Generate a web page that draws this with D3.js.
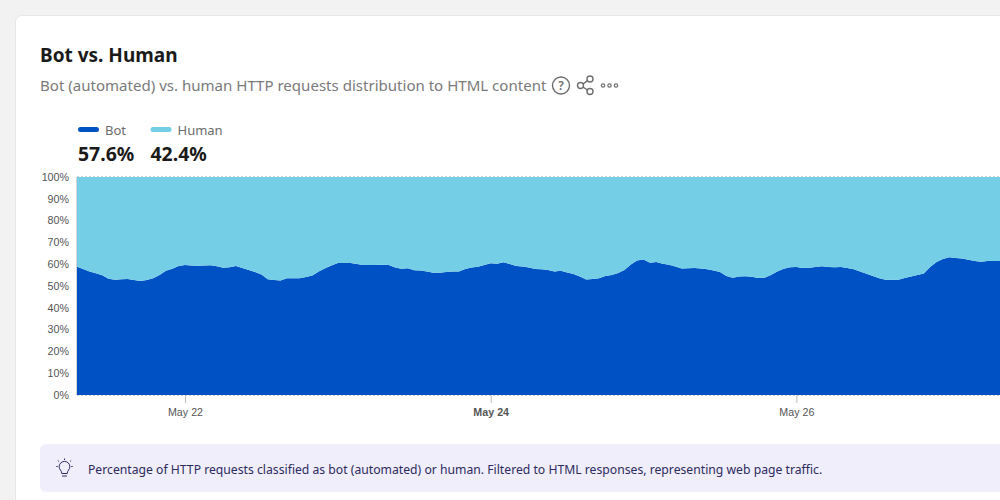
<!DOCTYPE html>
<html>
<head>
<meta charset="utf-8">
<script src="https://cdn.jsdelivr.net/npm/d3@7"></script>
<style>
  html, body { margin: 0; padding: 0; background: #f2f2f2; overflow: hidden; }
  svg { display: block; }
  text { font-family: "Noto Sans", sans-serif; }
  .tick text { font-family: "Liberation Sans", Arial, sans-serif; font-size: 10.7px; fill: #555; }
</style>
</head>
<body>
<svg id="chart" width="1000" height="500"></svg>
<script>
// hourly share of bot requests
var startTime = "2024-05-21T07:00:00Z"
var botValues = [
  58.9, 57.8, 56.6, 55.8, 54.9, 53.3, 52.9, 53.1, 53.2, 52.8, 52.3, 52.8, 53.5, 55.0, 57.0, 57.9,
  59.2, 59.6, 59.4, 59.3, 59.4, 59.5, 59.1, 58.4, 58.6, 59.2, 58.3, 57.3, 56.4, 55.3, 53.1, 52.8,
  52.5, 53.6, 53.5, 53.5, 54.1, 54.8, 56.6, 58.1, 59.4, 60.6, 60.5, 60.5, 60.1, 59.6, 59.6, 59.6,
  59.7, 59.6, 58.5, 57.9, 58.1, 57.2, 57.1, 56.6, 56.1, 56.1, 56.4, 56.7, 56.7, 57.8, 58.5, 58.8,
  59.6, 60.4, 60.2, 60.9, 60.1, 59.2, 59.0, 58.5, 57.8, 57.7, 57.3, 56.7, 57.0, 56.2, 55.5, 54.4,
  53.0, 53.2, 53.6, 54.6, 55.0, 56.0, 57.3, 59.9, 61.7, 62.2, 60.7, 61.0, 60.2, 59.7, 58.9, 58.0,
  58.1, 58.3, 58.0, 57.7, 57.1, 56.4, 54.6, 53.8, 54.4, 54.5, 54.3, 53.7, 53.8, 55.0, 56.7, 57.9,
  58.6, 58.7, 58.3, 58.4, 58.7, 59.1, 58.7, 58.6, 58.7, 58.3, 57.7, 56.7, 55.6, 54.6, 53.5, 52.9,
  52.9, 52.9, 53.7, 54.4, 55.0, 55.7, 58.7, 61.0, 62.4, 63.2, 62.9, 62.6, 62.0, 61.5, 61.1, 61.5,
  61.5, 61.5, 61.5
]
var yTicks = [0, 10, 20, 30, 40, 50, 60, 70, 80, 90, 100]
var xTicks = ["2024-05-22T00:00:00Z", "2024-05-24T00:00:00Z", "2024-05-26T00:00:00Z"]
var xTickLabels = ["May 22", "May 24", "May 26"]
var legendNames = ["Bot", "Human"]
var legendValues = ["57.6%", "42.4%"]
var colors = ["#0051c3", "#74cee6"]

var svg = d3.select("#chart")

// card
svg.append("rect").attr("x", 15.5).attr("y", 15.5).attr("width", 1100).attr("height", 600)
  .attr("rx", 6).attr("fill", "#fff").attr("stroke", "#e6e6e6")

svg.append("text").attr("x", 40).attr("y", 62).text("Bot vs. Human")
  .style("font-size", "19px").style("font-weight", 700).attr("fill", "#1a1a1a")

svg.append("text").attr("x", 40).attr("y", 91)
  .text("Bot (automated) vs. human HTTP requests distribution to HTML content")
  .style("font-size", "15.05px").attr("fill", "#7a7a7a")

// help, share and more icons
var icons = svg.append("g").attr("fill", "none").attr("stroke", "#6e6e6e").attr("stroke-width", 1.4)
icons.append("circle").attr("cx", 561).attr("cy", 85.5).attr("r", 8.5)
icons.append("text").attr("x", 561).attr("y", 90).attr("text-anchor", "middle").text("?")
  .attr("stroke", "none").attr("fill", "#6e6e6e").style("font-size", "12px").style("font-weight", 600)
icons.append("circle").attr("cx", 580.5).attr("cy", 85.5).attr("r", 3)
icons.append("circle").attr("cx", 590).attr("cy", 79).attr("r", 3)
icons.append("circle").attr("cx", 590).attr("cy", 91.5).attr("r", 3)
icons.append("path").attr("d", "M583 84 L587.4 80.6 M583 87 L587.4 90")
icons.selectAll(".dot").data([603, 609.5, 616]).enter().append("circle").attr("class", "dot")
  .attr("cx", function(d) { return d }).attr("cy", 85.5).attr("r", 1.7).attr("stroke-width", 1.2)

// legend
var legendX = [78, 150.5]
var legend = svg.selectAll(".legend").data(legendNames).enter().append("g").attr("class", "legend")
  .attr("transform", function(d, i) { return "translate(" + legendX[i] + ",0)" })
legend.append("rect").attr("x", 0).attr("y", 127).attr("width", 21).attr("height", 5).attr("rx", 2.5)
  .attr("fill", function(d, i) { return colors[i] })
legend.append("text").attr("x", 27).attr("y", 135).text(function(d) { return d })
  .style("font-size", "13px").attr("fill", "#6b6b6b")
legend.append("text").attr("x", 0).attr("y", 161).text(function(d, i) { return legendValues[i] })
  .style("font-size", "19.4px").style("font-weight", 700).attr("fill", "#1a1a1a")

// chart
var left = 77, right = 1000, top_ = 177, bottom = 395
var parse = d3.utcParse("%Y-%m-%dT%H:%M:%SZ")
var start = parse(startTime)
var rows = botValues.map(function(v, i) {
  return { time: d3.utcHour.offset(start, i), bot: v, human: 100 - v }
})

// May 22 sits at x=185, May 24 at x=490.7
var x = d3.scaleUtc()
  .domain([parse(xTicks[0]), parse(xTicks[1])])
  .range([185, 490.7])
var y = d3.scaleLinear().domain([0, 100]).range([bottom, top_])

var clip = svg.append("clipPath").attr("id", "plot")
clip.append("rect").attr("x", left).attr("y", top_).attr("width", right - left).attr("height", bottom - top_)

var stack = d3.stack().keys(["bot", "human"])
var area = d3.area()
  .x(function(d) { return x(d.data.time) })
  .y0(function(d) { return y(d[0]) })
  .y1(function(d) { return y(d[1]) })

svg.append("g").attr("clip-path", "url(#plot)")
  .selectAll("path").data(stack(rows)).enter().append("path")
  .attr("d", area)
  .attr("fill", function(d, i) { return colors[i] })

// frame of the plot
svg.append("line").attr("x1", left - 0.5).attr("x2", left - 0.5).attr("y1", top_).attr("y2", bottom)
  .attr("stroke", "#d4d4d4")
svg.selectAll(".edge").data([top_ - 0.5, bottom + 0.5]).enter().append("line").attr("class", "edge")
  .attr("x1", left).attr("x2", right)
  .attr("y1", function(d) { return d }).attr("y2", function(d) { return d })
  .attr("stroke", "#d0d0d0").attr("stroke-dasharray", "2,2")

var yAxis = d3.axisLeft(y).tickValues(yTicks).tickSize(0).tickPadding(8)
  .tickFormat(function(d) { return d + "%" })
svg.append("g").attr("transform", "translate(" + left + ",-0.2)").call(yAxis)
  .call(function(g) { g.select(".domain").remove() })

var xAxis = d3.axisBottom(x).tickValues(xTicks.map(parse)).tickSize(8).tickPadding(5)
  .tickFormat(function(d, i) { return xTickLabels[i] })
svg.append("g").attr("transform", "translate(0," + bottom + ")").call(xAxis)
  .call(function(g) {
    g.select(".domain").remove()
    g.selectAll(".tick line").attr("stroke", "#bdbdbd")
    g.selectAll(".tick text").style("font-weight", function(d, i) { return i == 1 ? 700 : 400 })
  })

// info box
svg.append("rect").attr("x", 40).attr("y", 444).attr("width", 1000).attr("height", 48).attr("rx", 6)
  .attr("fill", "#f0eefb")
var bulb = svg.append("g").attr("fill", "none").attr("stroke", "#2c2a60").attr("stroke-width", 1)
  .attr("transform", "translate(0.3,2.5)")
bulb.append("path").attr("d", "M61.5 471 C61.5 468 58.8 467 58.8 464.3 A5.4 5.4 0 0 1 69.6 464.3 C69.6 467 66.9 468 66.9 471 Z")
bulb.append("path").attr("d", "M61.8 473.5 H66.6 M64.2 456 V457.5 M57.5 458 L58.6 459 M70.9 458 L69.8 459 M56 464 H57.4 M72.4 464 H71")
svg.append("text").attr("x", 88).attr("y", 474)
  .text("Percentage of HTTP requests classified as bot (automated) or human. Filtered to HTML responses, representing web page traffic.")
  .style("font-size", "12.2px").attr("fill", "#2c2a60")
</script>
</body>
</html>
